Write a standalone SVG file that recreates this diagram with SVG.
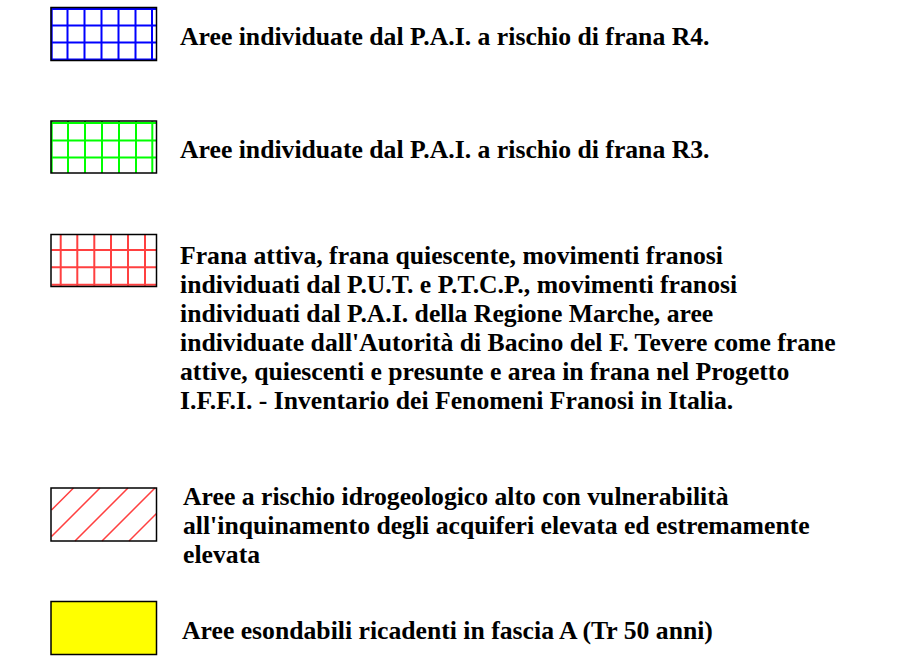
<svg xmlns="http://www.w3.org/2000/svg" width="898" height="659" viewBox="0 0 898 659">
<style>
.t{font-family:"Liberation Serif","Times New Roman",serif;font-weight:bold;font-size:25.7px;fill:#000}
.box{fill:none;stroke:#000;stroke-width:1.5}
.bl{stroke:#0000ff;stroke-width:2}
.gr{stroke:#00ff00;stroke-width:2}
.rd{stroke:#ff4040;stroke-width:2}
.hx{stroke:#ff4040;stroke-width:1.5}
</style>
<rect width="898" height="659" fill="#fff"/>
<g id="legend-r4">
<g class="bl">
<path d="M51.5,9H157M51.5,25.5H157M51.5,42.5H157M51.5,59.5H157"/>
<path d="M51.7,7V61M67.5,7V61M84.5,7V61M101.5,7V61M118.5,7V61M135.5,7V61M152,7V61"/>
</g>
<rect class="box" x="51" y="7.5" width="105.5" height="53"/>
<text class="t" x="180" y="45">Aree individuate dal P.A.I. a rischio di frana R4.</text>
</g>
<g id="legend-r3">
<g class="gr">
<path d="M51.5,123H157M51.5,140.5H157M51.5,157.5H157"/>
<path d="M51.7,121V173M68,121V173M85,121V173M102,121V173M119,121V173M136,121V173M152.3,121V173"/>
</g>
<rect class="box" x="51" y="121" width="105.5" height="52"/>
<text class="t" x="180" y="157.5">Aree individuate dal P.A.I. a rischio di frana R3.</text>
</g>
<g id="legend-frane">
<g class="rd">
<path d="M51.5,250H157M51.5,267.3H157M51.5,284.7H157"/>
<path d="M60.7,234V287M77.3,234V287M94.3,234V287M111,234V287M128,234V287M145,234V287"/>
</g>
<rect class="box" x="51" y="234.5" width="105.5" height="52"/>
<text class="t" x="180" y="264">Frana attiva, frana quiescente, movimenti franosi</text>
<text class="t" x="180" y="293">individuati dal P.U.T. e P.T.C.P., movimenti franosi</text>
<text class="t" x="180" y="322">individuati dal P.A.I. della Regione Marche, aree</text>
<text class="t" x="180" y="351">individuate dall'Autorità di Bacino del F. Tevere come frane</text>
<text class="t" x="180" y="380">attive, quiescenti e presunte e area in frana nel Progetto</text>
<text class="t" x="180" y="409">I.F.F.I. - Inventario dei Fenomeni Franosi in Italia.</text>
</g>
<g id="legend-idro">
<path class="hx" d="M51.5,510L73.5,488M51.5,536.5L100,488M75,541L128,488M102,541L155,488M129,541L156.5,513.5"/>
<rect class="box" x="51" y="488" width="105.5" height="53"/>
<text class="t" x="183" y="505">Aree a rischio idrogeologico alto con vulnerabilità</text>
<text class="t" x="183" y="534">all'inquinamento degli acquiferi elevata ed estremamente</text>
<text class="t" x="183" y="563">elevata</text>
</g>
<g id="legend-esond">
<rect x="51" y="601.5" width="105.5" height="53" fill="#ffff00" stroke="#000" stroke-width="1.5"/>
<text class="t" x="182" y="639">Aree esondabili ricadenti in fascia A (Tr 50 anni)</text>
</g>
</svg>
